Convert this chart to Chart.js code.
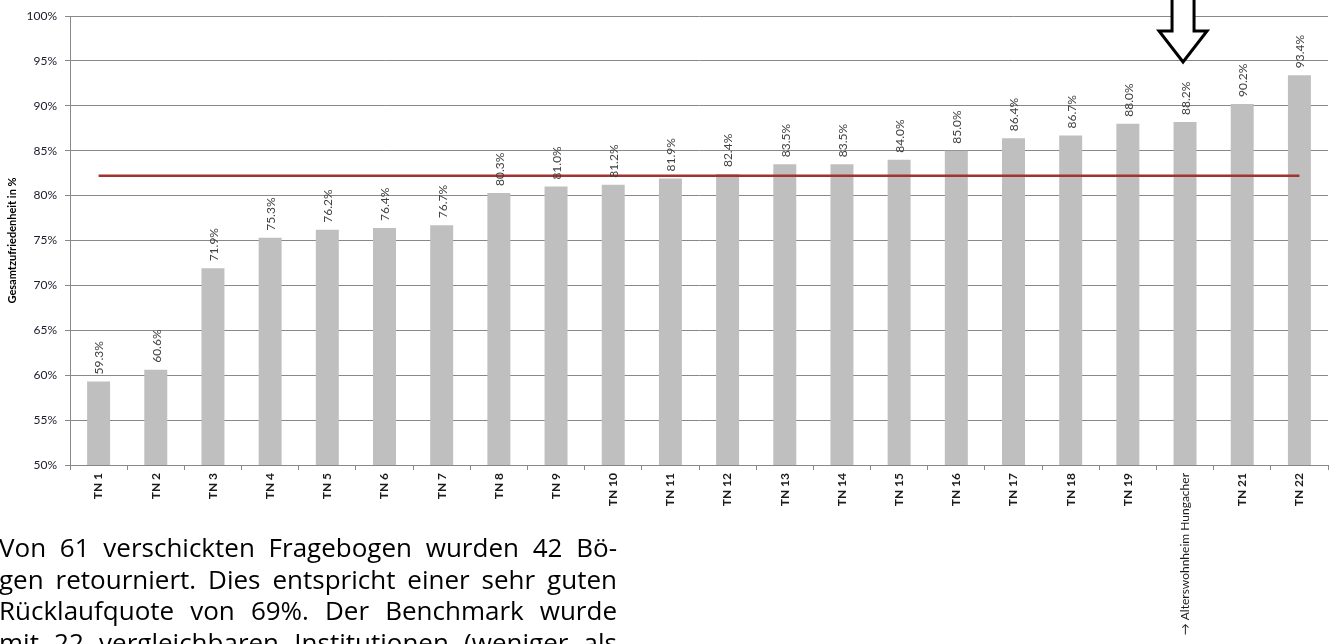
<!DOCTYPE html>
<html>
<head>
<meta charset="utf-8">
<script src="https://cdn.jsdelivr.net/npm/chart.js@4"></script>
<style>
  html, body { margin: 0; padding: 0; background: #fff; width: 1330px; height: 644px; overflow: hidden; }
  #wrap { position: absolute; left: 0; top: 0; width: 1330px; height: 644px; }
  #para { position: absolute; left: -1px; top: 532px; width: 618px; font-family: 'Open Sans', sans-serif; font-size: 26px; line-height: 31.5px; color: #000; }
  #para div { text-align: justify; text-align-last: justify; white-space: nowrap; }
</style>
</head>
<body>
<div id="wrap"><canvas id="c" width="1330" height="644"></canvas></div>
<div id="para">
  <div>Von 61 verschickten Fragebogen wurden 42 Bö-</div>
  <div>gen retourniert. Dies entspricht einer sehr guten</div>
  <div>Rücklaufquote von 69%. Der Benchmark wurde</div>
  <div>mit 22 vergleichbaren Institutionen (weniger als</div>
</div>
<script>
const categories = ['TN 1','TN 2','TN 3','TN 4','TN 5','TN 6','TN 7','TN 8','TN 9','TN 10','TN 11','TN 12','TN 13','TN 14','TN 15','TN 16','TN 17','TN 18','TN 19','→ Alterswohnheim Hungacher','TN 21','TN 22'];
const satisfaction = [59.3, 60.6, 71.9, 75.3, 76.2, 76.4, 76.7, 80.3, 81.0, 81.2, 81.9, 82.4, 83.5, 83.5, 84.0, 85.0, 86.4, 86.7, 88.0, 88.2, 90.2, 93.4];
const benchmark = [82.2, 82.2, 82.2, 82.2, 82.2, 82.2, 82.2, 82.2, 82.2, 82.2, 82.2, 82.2, 82.2, 82.2, 82.2, 82.2, 82.2, 82.2, 82.2, 82.2, 82.2, 82.2];
const yTickValues = [50, 55, 60, 65, 70, 75, 80, 85, 90, 95, 100];
const yAxisTitle = 'Gesamtzufriedenheit in %';
const highlightIndex = 19;

const FONT = 'Lato, "Liberation Sans", sans-serif';

const valueLabels = {
  id: 'valueLabels',
  afterDatasetsDraw(chart) {
    const meta = chart.getDatasetMeta(1);
    const ctx = chart.ctx;
    ctx.save();
    ctx.font = '12px ' + FONT;
    ctx.fillStyle = '#404040';
    ctx.textAlign = 'left';
    ctx.textBaseline = 'middle';
    meta.data.forEach((bar, i) => {
      ctx.save();
      ctx.translate(bar.x + 1, bar.y - 7);
      ctx.rotate(-Math.PI / 2);
      ctx.fillText(satisfaction[i].toFixed(1) + '%', 0, 0);
      ctx.restore();
    });
    ctx.restore();
  }
};

const bigArrow = {
  id: 'bigArrow',
  afterDraw(chart) {
    const x = chart.scales.x.getPixelForValue(highlightIndex) - 2;
    const top = chart.chartArea.top;
    const ctx = chart.ctx;
    ctx.save();
    ctx.beginPath();
    ctx.moveTo(x - 11, -6);
    ctx.lineTo(x - 11, top + 15);
    ctx.lineTo(x - 24, top + 15);
    ctx.lineTo(x, top + 46);
    ctx.lineTo(x + 24, top + 15);
    ctx.lineTo(x + 11, top + 15);
    ctx.lineTo(x + 11, -6);
    ctx.closePath();
    ctx.fillStyle = '#fff';
    ctx.fill();
    ctx.lineWidth = 3;
    ctx.lineJoin = 'miter';
    ctx.strokeStyle = '#000';
    ctx.stroke();
    ctx.restore();
  }
};

new Chart(document.getElementById('c'), {
  data: {
    labels: categories,
    datasets: [
      {
        type: 'line',
        data: benchmark,
        borderColor: '#a3322e',
        borderWidth: 2.5,
        pointRadius: 0,
        tension: 0,
        fill: false,
        order: 0
      },
      {
        type: 'bar',
        data: satisfaction,
        backgroundColor: '#bfbfbf',
        borderWidth: 0,
        barPercentage: 0.402,
        categoryPercentage: 1.0,
        order: 1
      }
    ]
  },
  options: {
    responsive: false,
    animation: false,
    layout: { padding: { left: 0, right: 2, top: 16, bottom: 0 } },
    plugins: { legend: { display: false }, tooltip: { enabled: false } },
    scales: {
      x: {
        offset: true,
        grid: { offset: true, drawOnChartArea: false, drawTicks: true, tickLength: 5, color: '#888' },
        border: { color: '#888', width: 1 },
        ticks: {
          autoSkip: false,
          minRotation: 90,
          maxRotation: 90,
          padding: 3,
          color: '#1a1a1a',
          font: (c) => c.index === highlightIndex
            ? { family: FONT, size: 12, weight: 'normal' }
            : { family: FONT, size: 12, weight: 'bold' }
        },
        afterFit(scale) { scale.height = 179; }
      },
      y: {
        min: 50,
        max: 100,
        afterBuildTicks(scale) { scale.ticks = yTickValues.map(v => ({ value: v })); },
        grid: { color: '#888', lineWidth: 1, drawTicks: true, tickLength: 5 },
        border: { color: '#888', width: 1 },
        ticks: {
          padding: 8,
          color: '#1a1a2a',
          font: { family: FONT, size: 12 },
          callback: (v) => v + '%'
        },
        title: {
          display: true,
          text: yAxisTitle,
          color: '#000',
          font: { family: FONT, size: 11, weight: 'bold' },
          padding: { top: 6, bottom: 0 }
        },
        afterFit(scale) { scale.width = 70; }
      }
    }
  },
  plugins: [valueLabels, bigArrow]
});
</script>
</body>
</html>
